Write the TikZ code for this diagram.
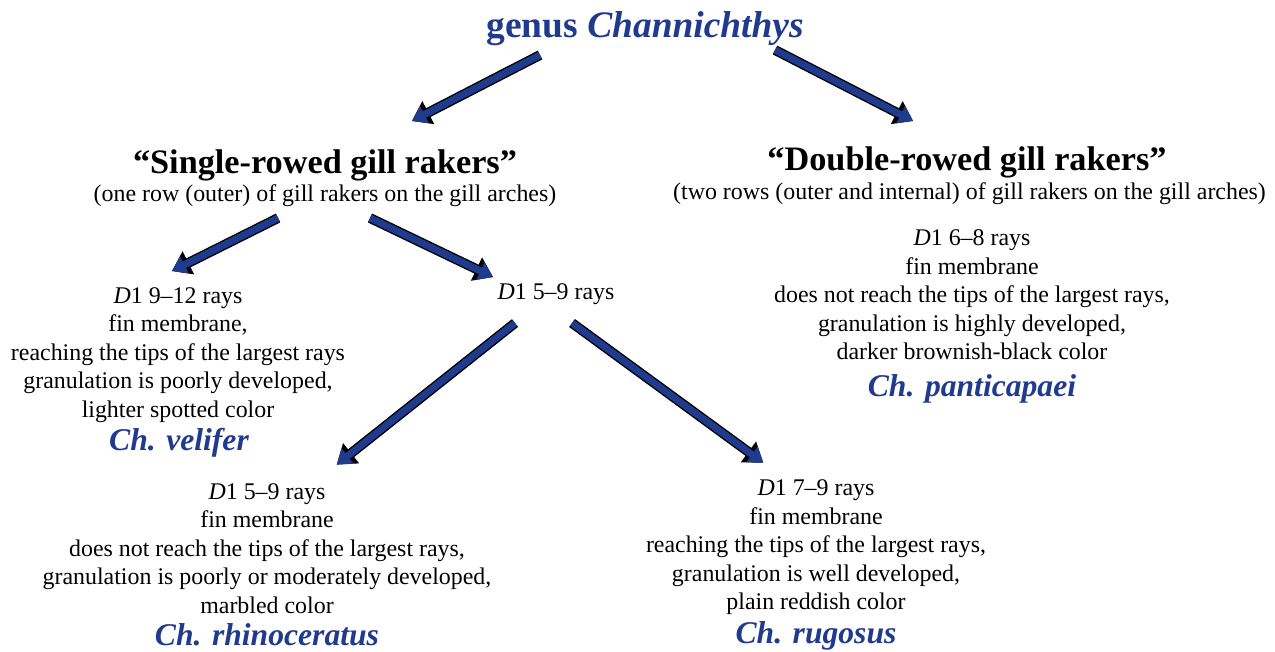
\documentclass[tikz,border=0pt]{standalone}
\usepackage{fontspec}
\setmainfont{Liberation Serif}
\usepackage{xcolor}
\usetikzlibrary{arrows.meta, positioning, calc}
\definecolor{genusblue}{RGB}{32, 58, 142}

\begin{document}
\begin{tikzpicture}[
  every node/.style={font=\fontsize{13.6}{16.2}\selectfont, inner sep=1pt},
  body/.style={align=center},
  head/.style={font=\fontsize{19.5}{22}\selectfont\bfseries},
  species/.style={font=\fontsize{18}{21}\selectfont\bfseries\itshape, text=genusblue},
  blockarrow/.style={line width=4pt, draw=genusblue, shorten >=1.2pt, -{Triangle[length=8pt, width=10.5pt]},
    preaction={draw=black, line width=5.6pt, -{Triangle[length=10.5pt, width=14pt]}}}
]
  \useasboundingbox (0,0) rectangle (25.5,-13.02);

  \node[font=\fontsize{21.3}{24}\selectfont\bfseries, text=genusblue] (genus) at (12.9,-0.58) {genus \textit{Channichthys}};

  \node[head] (single) at (6.5,-3.3) {“Single-rowed gill rakers”};
  \node (singlesub) at (6.5,-3.92) {(one row (outer) of gill rakers on the gill arches)};
  \node[head] (double) at (19.34,-3.25) {“Double-rowed gill rakers”};
  \node (doublesub) at (19.39,-3.88) {(two rows (outer and internal) of gill rakers on the gill arches)};

  \node[body] (panti) at (19.44,-5.9) {\textit{D}1 6--8 rays\\ fin membrane\\ does not reach the tips of the largest rays,\\ granulation is highly developed,\\ darker brownish-black color};
  \node[species] (pantiname) at (19.44,-7.78) {Ch. panticapaei};

  \node[body] (veli) at (3.56,-7.1) {\textit{D}1 9--12 rays\\ fin membrane,\\ reaching the tips of the largest rays\\ granulation is poorly developed,\\ lighter spotted color};
  \node[species] (veliname) at (3.58,-8.86) {Ch. velifer};

  \node (mid) at (11.12,-5.88) {\textit{D}1 5--9 rays};

  \node[body] (rhino) at (5.34,-10.97) {\textit{D}1 5--9 rays\\ fin membrane\\ does not reach the tips of the largest rays,\\ granulation is poorly or moderately developed,\\ marbled color};
  \node[species] (rhinoname) at (5.34,-12.7) {Ch. rhinoceratus};

  \node[body] (rugo) at (16.32,-10.95) {\textit{D}1 7--9 rays\\ fin membrane\\ reaching the tips of the largest rays,\\ granulation is well developed,\\ plain reddish color};
  \node[species] (rugoname) at (16.32,-12.72) {Ch. rugosus};

  % arrows
  \draw[blockarrow] ([shift={(-2.1,-0.52)}]genus.center) -- ([shift={(1.7,0.86)}]single.center);
  \draw[blockarrow] ([shift={(2.6,-0.42)}]genus.center) -- ([shift={(-1.04,0.81)}]double.center);
  \draw[blockarrow] ([shift={(-0.94,-0.44)}]singlesub.center) -- ([shift={(-0.16,1.66)}]veli.center);
  \draw[blockarrow] ([shift={(0.9,-0.44)}]singlesub.center) -- ([shift={(-1.22,0.32)}]mid.center);
  \draw[blockarrow] ([shift={(-0.82,-0.58)}]mid.center) -- ([shift={(1.36,1.65)}]rhino.center);
  \draw[blockarrow] ([shift={(0.32,-0.58)}]mid.center) -- ([shift={(-1.02,1.67)}]rugo.center);
\end{tikzpicture}
\end{document}
